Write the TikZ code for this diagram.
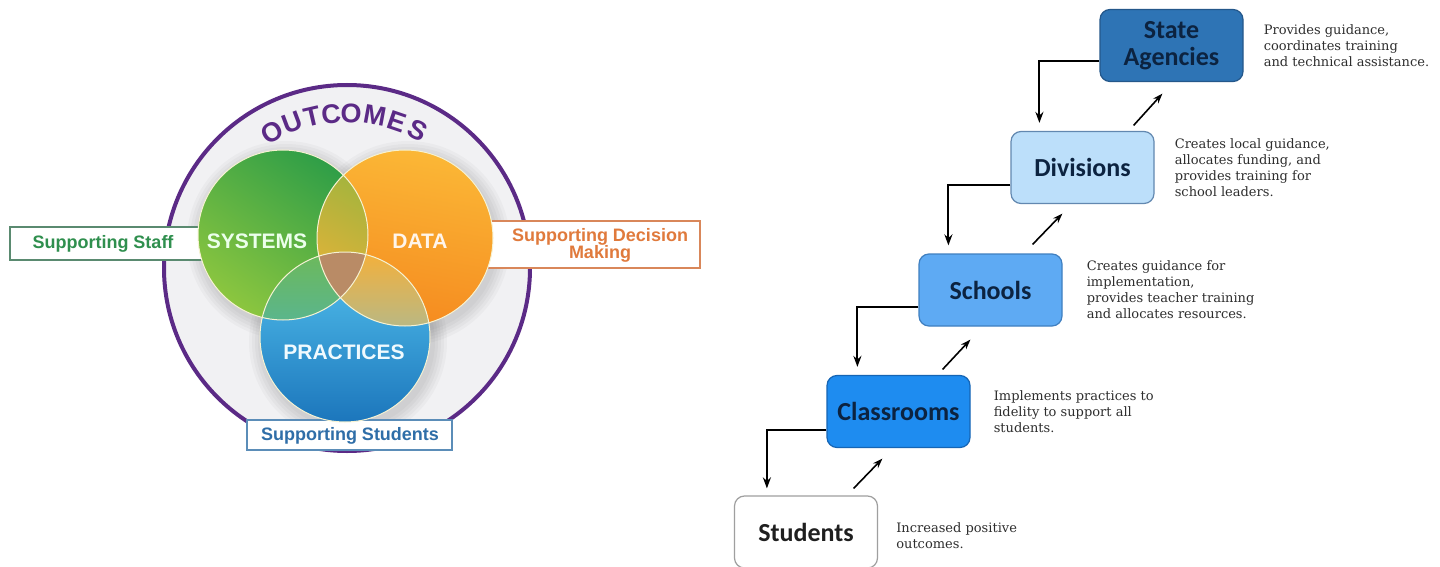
\documentclass[tikz,border=0pt]{standalone}
\usepackage{fontspec}
\setmainfont{DejaVu Serif}
\newfontfamily\arialf{Liberation Sans}
\newfontfamily\calib{Carlito}
\newfontfamily\slab{DejaVu Serif}
\usetikzlibrary{arrows.meta,calc}
\definecolor{purp}{HTML}{5B2A86}
\definecolor{bgin}{HTML}{F1F1F3}
\definecolor{grnD}{HTML}{2F9E47}
\definecolor{grnL}{HTML}{8CC63F}
\definecolor{orgL}{HTML}{FBB736}
\definecolor{orgD}{HTML}{F58A1F}
\definecolor{bluL}{HTML}{55C4EF}
\definecolor{bluD}{HTML}{1C76BC}
\definecolor{goL}{HTML}{7DB540}
\definecolor{goR}{HTML}{EAB238}
\definecolor{gbT}{HTML}{6DB95A}
\definecolor{gbB}{HTML}{3FB0D6}
\definecolor{obT}{HTML}{F4B03A}
\definecolor{obB}{HTML}{6FC3E2}
\definecolor{tri}{HTML}{B98B66}
\definecolor{rim}{HTML}{F6F2D2}
\definecolor{stafftxt}{HTML}{2F8F4E}
\definecolor{staffbd}{HTML}{5A8A70}
\definecolor{dectxt}{HTML}{E07A3C}
\definecolor{decbd}{HTML}{D9875A}
\definecolor{stutxt}{HTML}{2F6EA8}
\definecolor{stubd}{HTML}{5B8DB8}
\definecolor{saF}{HTML}{2E74B5}
\definecolor{saD}{HTML}{24578A}
\definecolor{divF}{HTML}{BCDFFA}
\definecolor{divD}{HTML}{6288B0}
\definecolor{schF}{HTML}{5EAAF3}
\definecolor{schD}{HTML}{3F7FC0}
\definecolor{clsF}{HTML}{1E8CF0}
\definecolor{clsD}{HTML}{1565B5}
\definecolor{navy}{HTML}{0C2340}
\definecolor{desctxt}{HTML}{2E2E2E}
\tikzset{
  venntxt/.style={font=\arialf\bfseries\fontsize{21}{21}\selectfont, inner sep=0pt},
  outl/.style={font=\arialf\bfseries\fontsize{27}{27}\selectfont, text=purp, inner sep=0pt},
  lbox/.style={fill=white, line width=1.2pt, inner sep=0pt},
  ltxt/.style={font=\arialf\bfseries\fontsize{18}{17}\selectfont, align=center, inner sep=0pt},
  lvl/.style={draw, rounded corners=10pt, minimum width=143pt, minimum height=72pt,
    line width=1.2pt, font=\calib\bfseries\fontsize{26}{27}\selectfont, align=center,
    inner sep=0pt, text=navy},
  desc/.style={font=\slab\fontsize{13}{16}\selectfont, align=left, text=desctxt,
    inner sep=0pt, anchor=west},
  elbow/.style={line width=2pt, -{Stealth[length=11pt,width=8pt]}},
  diag/.style={line width=1.6pt, -{Stealth[length=10pt,width=7pt]}},
  shad/.style={fill=black, opacity=0.028}
}
\begin{document}
\begin{tikzpicture}[x=1pt,y=-1pt]
\useasboundingbox (0,0) rectangle (1440,567);
\fill[white] (0,0) rectangle (1440,567);

% ---------- Venn part ----------
\coordinate (C) at (347,268);
\coordinate (G) at (283,235);
\coordinate (O) at (405,238);
\coordinate (B) at (345,337);

\fill[bgin] (C) circle (183);
% soft shadows
\foreach \d in {2,5,8,11,14} {
  \fill[shad] ($(G)+(3,5)$) circle ({85+\d});
  \fill[shad] ($(O)+(3,5)$) circle ({88+\d});
  \fill[shad] ($(B)+(3,5)$) circle ({85+\d});
}
\draw[purp, line width=4pt] (C) circle (183);

% label boxes (under the circles)
\node[lbox, draw=staffbd, minimum width=210pt, minimum height=33pt] (staffbox) at (115,243.5) {};
\node[lbox, draw=decbd, minimum width=220pt, minimum height=47pt] (decbox) at (590,244.5) {};
\node[lbox, draw=stubd, minimum width=205pt, minimum height=30pt] (stubox) at (349.5,435) {};
\node[ltxt, text=stafftxt] (staff) at (103,243.5) {Supporting Staff};
\node[ltxt, text=dectxt] (dec) at (600,245) {Supporting Decision\\Making};
\node[ltxt, text=stutxt] (stu) at (350,436) {Supporting Students};

% circles
\shade[top color=grnD, bottom color=grnL, shading angle=-35] (G) circle (85);
\shade[left color=orgL, right color=orgD, shading angle=-10] (O) circle (88);
\shade[top color=bluL, bottom color=bluD] (B) circle (85);
% overlaps
\begin{scope}
  \clip (G) circle (85);
  \shade[left color=goL, right color=goR, shading angle=-30] (O) circle (88);
\end{scope}
\begin{scope}
  \clip (G) circle (85);
  \shade[top color=gbT, bottom color=gbB] (B) circle (85);
\end{scope}
\begin{scope}
  \clip (O) circle (88);
  \shade[top color=obT, bottom color=obB] (B) circle (85);
\end{scope}
\begin{scope}
  \clip (G) circle (85);
  \clip (O) circle (88);
  \fill[tri] (B) circle (85);
\end{scope}
\draw[rim, line width=1pt] (G) circle (85);
\draw[rim, line width=1pt] (O) circle (88);
\draw[rim, line width=1pt] (B) circle (85);

\node[venntxt, text=green!8!white] (sys) at (257,241) {SYSTEMS};
\node[venntxt, text=orange!8!white] (dat) at (420,241) {DATA};
\node[venntxt, text=cyan!6!white] (prc) at (344,352) {PRACTICES};

\foreach \l/\t [count=\i] in {O/-28.9,U/-20.6,T/-13.0,C/-5.9,O/1.5,M/10.4,E/18.9,S/27.1} {
  \node[outl, rotate={-1*(\t)}] (oc\i) at ({347+155*sin(\t)},{268-155*cos(\t)}) {\l};
}

% ---------- Level diagram ----------
\node[lvl, fill=saF, draw=saD] (sa) at (1171.5,45.5) {State\\Agencies};
\node[lvl, fill=divF, draw=divD] (div) at (1082.5,167.5) {Divisions};
\node[lvl, fill=schF, draw=schD] (sch) at (990.5,290) {Schools};
\node[lvl, fill=clsF, draw=clsD] (cls) at (898.5,411.5) {Classrooms};
\node[lvl, fill=white, draw=gray!75, text=black!88] (std) at (806,532) {Students};

\draw[elbow] ([yshift=-16pt]sa.west) -| ([xshift=29pt,yshift=8pt]div.north west);
\draw[elbow] ([yshift=-17.5pt]div.west) -| ([xshift=30pt,yshift=8pt]sch.north west);
\draw[elbow] ([yshift=-17pt]sch.west) -| ([xshift=31pt,yshift=8pt]cls.north west);
\draw[elbow] ([yshift=-18pt]cls.west) -| ([xshift=33pt,yshift=7pt]std.north west);

\draw[diag] ([xshift=-21pt,yshift=5.5pt]div.north east) -- ([xshift=63pt,yshift=-11.5pt]sa.south west);
\draw[diag] ([xshift=-30pt,yshift=9pt]sch.north east) -- ([xshift=52pt,yshift=-9.5pt]div.south west);
\draw[diag] ([xshift=-28pt,yshift=5.5pt]cls.north east) -- ([xshift=52pt,yshift=-13pt]sch.south west);
\draw[diag] ([xshift=-24.5pt,yshift=7pt]std.north east) -- ([xshift=56pt,yshift=-10.5pt]cls.south west);

\node[desc] (dsa) at ([xshift=20pt]sa.east) {Provides guidance,\\coordinates training\\and technical assistance.};
\node[desc] (ddiv) at ([xshift=20pt]div.east) {Creates local guidance,\\allocates funding, and\\provides training for\\school leaders.};
\node[desc] (dsch) at ([xshift=24pt]sch.east) {Creates guidance for\\implementation,\\provides teacher training\\and allocates resources.};
\node[desc] (dcls) at ([xshift=23pt]cls.east) {Implements practices to\\fidelity to support all\\students.};
\node[desc] (dstd) at ([xshift=18pt,yshift=-4pt]std.east) {Increased positive\\outcomes.};
\end{tikzpicture}
\end{document}
